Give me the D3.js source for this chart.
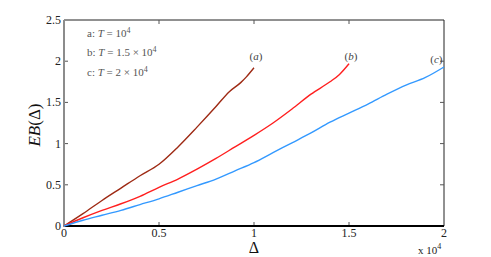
<!DOCTYPE html>
<html lang="en">
<head>
    <meta charset="UTF-8">
    <title>EB curves</title>
    <style>
        body { margin: 0; background: #fff; }
        svg text { font-family: "Liberation Serif", "DejaVu Serif", serif; }
    </style>
</head>
<body>
<script src="https://cdn.jsdelivr.net/npm/d3@7"></script>
<script>
    var width = 491;
    var height = 257;

    // x in units of 10^4, y = EB(Delta)
    var deltaA = [0, 0.1, 0.2, 0.3, 0.4, 0.5, 0.6, 0.7, 0.8, 0.87, 0.93, 0.96, 1.0];
    var ebA    = [0, 0.15, 0.31, 0.46, 0.61, 0.75, 0.96, 1.2, 1.45, 1.63, 1.74, 1.81, 1.92];
    var deltaB = [0, 0.1, 0.2, 0.3, 0.4, 0.5, 0.6, 0.7, 0.8, 0.9, 1.0, 1.1, 1.2, 1.3, 1.4, 1.45, 1.5];
    var ebB    = [0, 0.10, 0.19, 0.27, 0.36, 0.47, 0.57, 0.69, 0.82, 0.96, 1.10, 1.25, 1.42, 1.60, 1.75, 1.84, 1.97];
    var deltaC = [0, 0.1, 0.2, 0.3, 0.4, 0.5, 0.6, 0.7, 0.8, 0.9, 1.0, 1.1, 1.2, 1.3, 1.4, 1.5, 1.6, 1.7, 1.8, 1.9, 2.0];
    var ebC    = [0, 0.07, 0.13, 0.19, 0.26, 0.33, 0.41, 0.49, 0.57, 0.67, 0.77, 0.89, 1.01, 1.13, 1.26, 1.37, 1.48, 1.60, 1.71, 1.80, 1.93];

    var xTicks = [0, 0.5, 1, 1.5, 2];
    var yTicks = [0, 0.5, 1, 1.5, 2, 2.5];
    var curveNames = ["(a)", "(b)", "(c)"];
    var colors = ["#9e2a14", "#ff1f1f", "#3399ff"];

    var mLeft = 64, mRight = 444, mTop = 20, mBottom = 226;

    var x = d3.scaleLinear().domain([0, 2]).range([mLeft, mRight]);
    var y = d3.scaleLinear().domain([0, 2.5]).range([mBottom, mTop]);

    var svg = d3.select("body").append("svg")
        .attr("width", width)
        .attr("height", height);

    // box: top and right thin, bottom black, left gray
    svg.append("line").attr("x1", mLeft).attr("x2", mRight).attr("y1", mTop).attr("y2", mTop)
        .attr("stroke", "#222").attr("stroke-width", 1);
    svg.append("line").attr("x1", mRight).attr("x2", mRight).attr("y1", mTop).attr("y2", mBottom)
        .attr("stroke", "#222").attr("stroke-width", 1);

    // ticks inward on all sides
    var tickLen = 4;
    svg.selectAll(".xt").data(xTicks.slice(1, -1)).enter().append("line")
        .attr("x1", d => x(d)).attr("x2", d => x(d))
        .attr("y1", mBottom).attr("y2", mBottom - tickLen)
        .attr("stroke", "#555");
    svg.selectAll(".xtt").data(xTicks.slice(1, -1)).enter().append("line")
        .attr("x1", d => x(d)).attr("x2", d => x(d))
        .attr("y1", mTop).attr("y2", mTop + tickLen)
        .attr("stroke", "#555");
    svg.selectAll(".yt").data(yTicks.slice(1, -1)).enter().append("line")
        .attr("x1", mLeft).attr("x2", mLeft + tickLen)
        .attr("y1", d => y(d)).attr("y2", d => y(d))
        .attr("stroke", "#555");
    svg.selectAll(".ytr").data(yTicks.slice(1, -1)).enter().append("line")
        .attr("x1", mRight).attr("x2", mRight - tickLen)
        .attr("y1", d => y(d)).attr("y2", d => y(d))
        .attr("stroke", "#555");

    svg.append("line").attr("x1", mLeft).attr("x2", mRight).attr("y1", mBottom).attr("y2", mBottom)
        .attr("stroke", "#000").attr("stroke-width", 2);
    svg.append("line").attr("x1", mLeft).attr("x2", mLeft).attr("y1", mTop).attr("y2", mBottom + 1)
        .attr("stroke", "#8c8c8c").attr("stroke-width", 2);

    // tick labels
    svg.selectAll(".xl").data(xTicks).enter().append("text")
        .attr("x", d => x(d)).attr("y", mBottom + 11)
        .attr("text-anchor", "middle").attr("font-size", 12).attr("fill", "#222")
        .text(d => d);
    svg.selectAll(".yl").data(yTicks).enter().append("text")
        .attr("x", mLeft - 3).attr("y", d => y(d) + 4)
        .attr("text-anchor", "end").attr("font-size", 12).attr("fill", "#222")
        .text(d => d);

    // x 10^4
    var mult = svg.append("text").attr("x", 418).attr("y", 254)
        .attr("font-size", 11).attr("fill", "#222");
    mult.append("tspan").text("x 10");
    mult.append("tspan").attr("dy", -5).attr("font-size", 8).text("4");

    // axis titles
    svg.append("text").attr("x", x(1)).attr("y", 253)
        .attr("text-anchor", "middle").attr("font-size", 16).attr("fill", "#111")
        .text("\u0394");
    var yl = svg.append("text")
        .attr("transform", "translate(40," + (y(1.25) + 2) + ") rotate(-90)")
        .attr("text-anchor", "middle").attr("font-size", 17).attr("fill", "#111");
    yl.append("tspan").attr("font-style", "italic").text("EB");
    yl.append("tspan").text("(\u0394)");

    // curves
    var line = d3.line()
        .x(d => x(d[0]))
        .y(d => y(d[1]))
        .curve(d3.curveMonotoneX);

    var series = [
        d3.zip(deltaA, ebA),
        d3.zip(deltaB, ebB),
        d3.zip(deltaC, ebC)
    ];

    svg.selectAll(".curve").data(series).enter().append("path")
        .attr("d", line)
        .attr("fill", "none")
        .attr("stroke", (d, i) => colors[i])
        .attr("stroke-width", 1.4);

    // curve labels
    var labelPos = [[1.01, 2.01], [1.51, 2.01], [1.96, 1.98]];
    svg.selectAll(".cl").data(curveNames).enter().append("text")
        .attr("x", (d, i) => x(labelPos[i][0]))
        .attr("y", (d, i) => y(labelPos[i][1]))
        .attr("text-anchor", "middle").attr("font-size", 11).attr("fill", "#444")
        .each(function(d) {
            var t = d3.select(this);
            t.append("tspan").text("(");
            t.append("tspan").attr("font-style", "italic").text(d.slice(1, 2));
            t.append("tspan").text(")");
        });

    // legend text
    var legend = [
        { key: "a: ", val: "10", sup: "4" },
        { key: "b: ", val: "1.5 \u00d7 10", sup: "4" },
        { key: "c: ", val: "2 \u00d7 10", sup: "4" }
    ];
    var legendY = [37, 56, 76];
    svg.selectAll(".lg").data(legend).enter().append("text")
        .attr("x", 87).attr("y", (d, i) => legendY[i])
        .attr("font-size", 11).attr("fill", "#555")
        .each(function(d) {
            var t = d3.select(this);
            t.append("tspan").text(d.key);
            t.append("tspan").attr("font-style", "italic").text("T");
            t.append("tspan").text(" = " + d.val);
            t.append("tspan").attr("dy", -4).attr("font-size", 8).text(d.sup);
        });
</script>
</body>
</html>
